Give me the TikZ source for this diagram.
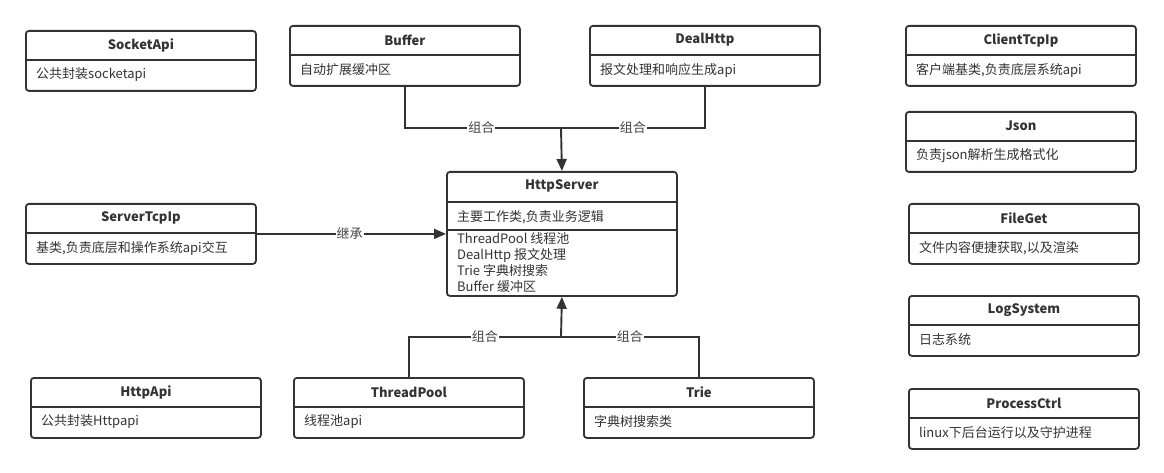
\documentclass[tikz,border=0pt]{standalone}
\usepackage{fontspec}
\setmainfont{Noto Sans CJK SC}
\usetikzlibrary{arrows.meta,calc}
\definecolor{ink}{HTML}{333333}
\definecolor{lblink}{HTML}{444444}
\tikzset{
  clsbox/.style={draw=ink, line width=1.8pt, rounded corners=3pt, minimum width=230pt, minimum height=60pt, inner sep=0pt, fill=white},
  bigbox/.style={clsbox, minimum height=124pt},
  divline/.style={draw=ink, line width=1.8pt},
  titletext/.style={text=ink, font=\fontsize{13}{16}\selectfont\bfseries, inner sep=0pt},
  bodytext/.style={text=ink, font=\fontsize{13}{16}\selectfont, inner sep=0pt, anchor=west},
  conn/.style={draw=ink, line width=1.9pt},
  arrowconn/.style={conn, -{Triangle[length=12pt,width=10pt,fill=ink]}},
  lbl/.style={fill=white, text=lblink, font=\fontsize{13}{16}\selectfont, inner sep=1pt}
}
\newcommand{\umlcls}[5]{%
  \node[clsbox, anchor=north west] (#1) at (#2,#3) {};
  \draw[divline] ([yshift=-30pt]#1.north west) -- ([yshift=-30pt]#1.north east);
  \node[titletext] (#1-t) at ([yshift=-15pt]#1.north) {#4};
  \node[bodytext] (#1-b) at ([xshift=11pt,yshift=-45pt]#1.north west) {#5};
}
\begin{document}
\begin{tikzpicture}[x=1pt,y=-1pt]
\fill[white] (0,0) rectangle (1164,473);
\useasboundingbox (0,0) rectangle (1164,473);

\umlcls{socket}{25}{30}{SocketApi}{公共封装socketapi}
\umlcls{buffer}{289}{25}{Buffer}{自动扩展缓冲区}
\umlcls{deal}{589}{25}{DealHttp}{报文处理和响应生成api}
\umlcls{client}{905}{25}{ClientTcpIp}{客户端基类,负责底层系统api}
\umlcls{json}{905}{111}{Json}{负责json解析生成格式化}
\umlcls{srv}{25}{203}{ServerTcpIp}{基类,负责底层和操作系统api交互}
\umlcls{file}{908}{203}{FileGet}{文件内容便捷获取,以及渲染}
\umlcls{log}{908}{295}{LogSystem}{日志系统}
\umlcls{proc}{908}{388}{ProcessCtrl}{linux下后台运行以及守护进程}
\umlcls{hapi}{30}{377}{HttpApi}{公共封装Httpapi}
\umlcls{tp}{293}{377}{ThreadPool}{线程池api}
\umlcls{trie}{583}{377}{Trie}{字典树搜索类}

% HttpServer
\node[bigbox, anchor=north west] (hs) at (446,171) {};
\draw[divline] ([yshift=-31pt]hs.north west) -- ([yshift=-31pt]hs.north east);
\draw[divline] ([yshift=-59pt]hs.north west) -- ([yshift=-59pt]hs.north east);
\node[titletext] (hs-t) at ([yshift=-15pt]hs.north) {HttpServer};
\node[bodytext] (hs-b) at ([xshift=11pt,yshift=-46pt]hs.north west) {主要工作类,负责业务逻辑};
\node[bodytext, anchor=north west, align=left, font=\fontsize{13}{16}\selectfont] (hs-m) at ([xshift=11pt,yshift=-61pt]hs.north west)
  {ThreadPool 线程池\\DealHttp 报文处理\\Trie 字典树搜索\\Buffer 缓冲区};

% connectors
\coordinate (jtop) at (561,128);
\coordinate (jbot) at (561,337);
\draw[conn] (buffer.south) |- node[lbl, pos=0.745] {组合} (jtop);
\draw[conn] (deal.south) |- node[lbl, pos=0.75] {组合} (jtop);
\draw[arrowconn] (jtop) -- (hs.north);
\draw[conn] (tp.north) |- node[lbl, pos=0.75] {组合} (jbot);
\draw[conn] (trie.north) |- node[lbl, pos=0.75] {组合} (jbot);
\draw[arrowconn] (jbot) -- (hs.south);
\draw[arrowconn] (srv.east) -- node[lbl, pos=0.49] {继承} (srv.east -| hs.west);
\end{tikzpicture}
\end{document}
